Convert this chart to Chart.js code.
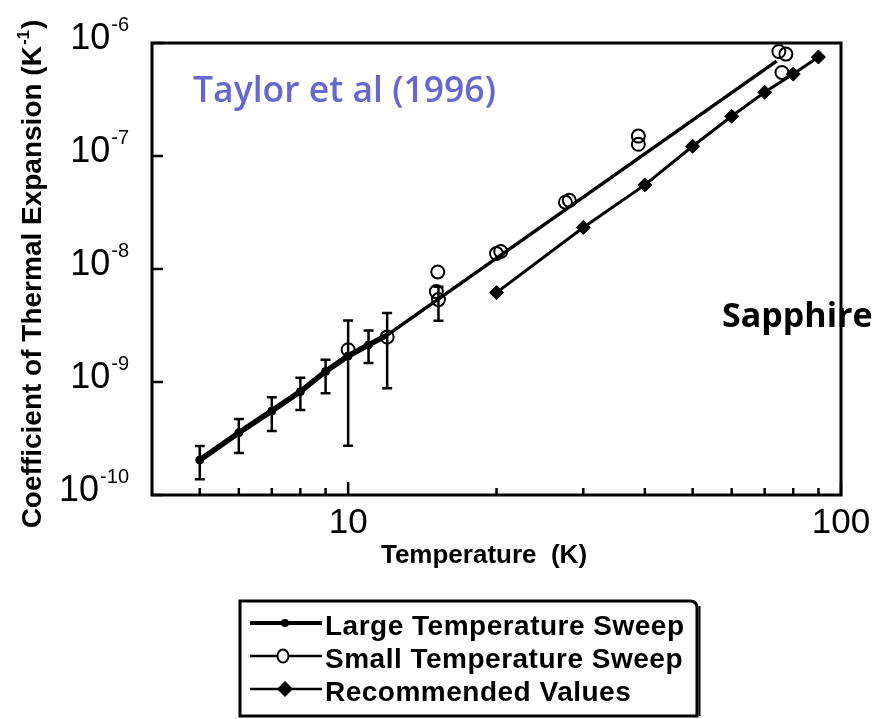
<!DOCTYPE html>
<html><head><meta charset="utf-8">
<script src="https://cdn.jsdelivr.net/npm/chart.js@4/dist/chart.umd.min.js"></script>
<style>html,body{margin:0;padding:0;background:#fff;}#wrap{position:relative;width:881px;height:719px;}</style>
</head><body><div id="wrap"><canvas id="c" width="881" height="719"></canvas></div>
<script>
// ---- data ----
const largeT  = [5, 6, 7, 8, 9, 10, 11, 12];
const largeV  = [2.04e-10, 3.56e-10, 5.55e-10, 8.22e-10, 1.24e-9, 1.70e-9, 2.13e-9, 2.60e-9];
const largeLo = [1.38e-10, 2.35e-10, 3.68e-10, 5.65e-10, 7.96e-10, null, 1.47e-9, null];
const largeHi = [2.71e-10, 4.71e-10, 7.33e-10, 1.09e-9, 1.57e-9, null, 2.86e-9, null];

const fitT = [12, 74];
const fitV = [2.60e-9, 6.92e-7];

const smallT  = [10, 12, 15.2, 15.1, 15.25, 20.0, 20.4, 27.6, 28.1, 38.8, 38.8, 74.8, 77.3, 75.9];
const smallV  = [1.93e-9, 2.50e-9, 9.42e-9, 6.31e-9, 5.36e-9, 1.37e-8, 1.43e-8, 3.90e-8, 4.05e-8, 1.50e-7, 1.27e-7, 8.41e-7, 7.98e-7, 5.49e-7];
const smallLo = [2.73e-10, 8.81e-10, null, null, 3.48e-9, null, null, null, null, null, null, null, null, null];
const smallHi = [3.51e-9, 4.07e-9, null, null, 6.98e-9, null, null, null, null, null, null, null, null, null];

const recT = [20, 30, 40, 50, 60, 70, 80, 90];
const recV = [6.18e-9, 2.33e-8, 5.55e-8, 1.22e-7, 2.25e-7, 3.67e-7, 5.31e-7, 7.51e-7];

const seriesNames = ['Large Temperature Sweep', 'Small Temperature Sweep', 'Recommended Values'];
const xTickValues = [10, 100];
const xTickLabels = ['10', '100'];
const xMinorTicks = [5, 6, 7, 8, 9, 20, 30, 40, 50, 60, 70, 80, 90];
const yTickValues = [1e-10, 1e-9, 1e-8, 1e-7, 1e-6];
const yTickExps   = ['-10', '-9', '-8', '-7', '-6'];
const xTitle = 'Temperature  (K)';
const yTitle = 'Coefficient of Thermal Expansion (K';
const yTitleExp = '-1';
const noteText = 'Taylor et al (1996)';
const materialText = 'Sapphire';

const pts = (xs, ys) => xs.map((x, i) => ({x: x, y: ys[i]}));

const errorBars = {
  id: 'errorBars',
  beforeDatasetsDraw(chart) {
    const ctx = chart.ctx, xs = chart.scales.x, ys = chart.scales.y;
    ctx.save();
    ctx.strokeStyle = '#000'; ctx.lineWidth = 2.5;
    chart.data.datasets.forEach(ds => {
      if (!ds.errLo) return;
      ds.data.forEach((p, i) => {
        if (ds.errLo[i] == null) return;
        const px = xs.getPixelForValue(p.x);
        const y1 = ys.getPixelForValue(ds.errLo[i]);
        const y2 = ys.getPixelForValue(ds.errHi[i]);
        ctx.beginPath();
        ctx.moveTo(px, y1); ctx.lineTo(px, y2);
        ctx.moveTo(px - 5, y1); ctx.lineTo(px + 5, y1);
        ctx.moveTo(px - 5, y2); ctx.lineTo(px + 5, y2);
        ctx.stroke();
      });
    });
    ctx.restore();
  }
};

function supText(ctx, base, exp, x, y, baseFont, expFont, raise, align) {
  ctx.font = baseFont; const wb = ctx.measureText(base).width;
  ctx.font = expFont; const we = ctx.measureText(exp).width;
  let x0 = align === 'right' ? x - wb - we : x;
  ctx.textAlign = 'left'; ctx.textBaseline = 'alphabetic';
  ctx.font = baseFont; ctx.fillText(base, x0, y);
  ctx.font = expFont; ctx.fillText(exp, x0 + wb + 1, y - raise);
}

const decor = {
  id: 'decor',
  afterDraw(chart) {
    const ctx = chart.ctx, a = chart.chartArea, xs = chart.scales.x, ys = chart.scales.y;
    ctx.save();
    ctx.strokeStyle = '#000'; ctx.fillStyle = '#000';
    // frame
    ctx.lineWidth = 3;
    ctx.strokeRect(a.left, a.top, a.right - a.left, a.bottom - a.top);
    // inward ticks
    ctx.lineWidth = 2.5;
    ctx.beginPath();
    xMinorTicks.forEach(v => { const p = xs.getPixelForValue(v); ctx.moveTo(p, a.bottom); ctx.lineTo(p, a.bottom - 7); });
    xTickValues.forEach(v => { const p = xs.getPixelForValue(v); ctx.moveTo(p, a.bottom); ctx.lineTo(p, a.bottom - 13); });
    yTickValues.forEach(v => { const p = ys.getPixelForValue(v); ctx.moveTo(a.left, p); ctx.lineTo(a.left + 11, p); });
    ctx.stroke();
    // x tick labels
    ctx.font = '35px "Liberation Sans", Arial, sans-serif';
    ctx.textAlign = 'center'; ctx.textBaseline = 'alphabetic';
    xTickValues.forEach((v, i) => { ctx.fillText(xTickLabels[i], xs.getPixelForValue(v), 533); });
    // y tick labels
    yTickValues.forEach((v, i) => {
      const p = ys.getPixelForValue(v);
      supText(ctx, '10', yTickExps[i], 128, p + 6, '36px "Liberation Sans", Arial, sans-serif', '20px "Liberation Sans", Arial, sans-serif', 18, 'right');
    });
    // x title
    ctx.font = 'bold 26px "Liberation Sans", Arial, sans-serif';
    ctx.textAlign = 'center';
    ctx.fillText(xTitle, 484, 563);
    // y title (rotated)
    ctx.save();
    ctx.translate(41, 274);
    ctx.rotate(-Math.PI / 2);
    const tf = 'bold 28px "Liberation Sans", Arial, sans-serif', ef = 'bold 17px "Liberation Sans", Arial, sans-serif';
    ctx.font = tf; const w1 = ctx.measureText(yTitle).width, w3 = ctx.measureText(')').width;
    ctx.font = ef; const w2 = ctx.measureText(yTitleExp).width;
    const tot = w1 + w2 + w3 + 2;
    let sx = -tot / 2;
    ctx.textAlign = 'left';
    ctx.font = tf; ctx.fillText(yTitle, sx, 0);
    ctx.font = ef; ctx.fillText(yTitleExp, sx + w1 + 1, -12);
    ctx.font = tf; ctx.fillText(')', sx + w1 + w2 + 2, 0);
    ctx.restore();
    // annotations
    ctx.font = '600 35.5px "Open Sans", sans-serif';
    ctx.fillStyle = '#6767cf'; ctx.textAlign = 'left';
    ctx.fillText(noteText, 193, 102);
    ctx.font = 'bold 34px "Open Sans", sans-serif';
    ctx.fillStyle = '#000';
    ctx.fillText(materialText, 722, 327);
    // legend box
    ctx.lineWidth = 3;
    ctx.beginPath();
    ctx.moveTo(240, 716); ctx.lineTo(240, 601); ctx.lineTo(690, 601);
    ctx.quadraticCurveTo(697, 601, 697, 608); ctx.lineTo(697, 716); ctx.closePath();
    ctx.stroke();
    ctx.lineWidth = 2; ctx.beginPath(); ctx.moveTo(699.5, 606); ctx.lineTo(699.5, 716); ctx.stroke();
    const rows = [635, 668, 701];
    ctx.font = 'bold 28px "Liberation Sans", Arial, sans-serif';
    ctx.letterSpacing = '0.5px';
    ctx.textAlign = 'left'; ctx.fillStyle = '#000';
    seriesNames.forEach((n, i) => {
      const yb = rows[i], yc = yb - 12;
      ctx.beginPath(); ctx.lineWidth = i === 0 ? 4 : 2.5;
      ctx.moveTo(250, yc); ctx.lineTo(322, yc); ctx.stroke();
      if (i === 0) { ctx.beginPath(); ctx.arc(285, yc, 4, 0, Math.PI * 2); ctx.fill(); }
      if (i === 1) { ctx.beginPath(); ctx.fillStyle = '#fff'; ctx.ellipse(283, yc, 5.5, 6.5, 0, 0, Math.PI * 2); ctx.fill(); ctx.lineWidth = 2; ctx.stroke(); ctx.fillStyle = '#000'; }
      if (i === 2) { ctx.beginPath(); ctx.moveTo(285, yc - 8); ctx.lineTo(293, yc); ctx.lineTo(285, yc + 8); ctx.lineTo(277, yc); ctx.closePath(); ctx.fill(); }
      ctx.fillText(n, 325, yb);
    });
    ctx.restore();
  }
};

new Chart(document.getElementById('c'), {
  type: 'scatter',
  data: {
    datasets: [
      { label: seriesNames[2], data: pts(recT, recV), showLine: true, borderColor: '#000', backgroundColor: '#000', borderWidth: 3,
        pointStyle: 'rectRot', pointRadius: 7, pointBorderWidth: 1 },
      { label: 'fit', data: pts(fitT, fitV), showLine: true, borderColor: '#000', borderWidth: 3.5, pointRadius: 0 },
      { label: seriesNames[0], data: pts(largeT, largeV), errLo: largeLo, errHi: largeHi, showLine: true, borderColor: '#000', backgroundColor: '#000', borderWidth: 5.5,
        pointStyle: 'circle', pointRadius: [4, 4, 4, 4, 4, 4, 4, 0], pointBorderWidth: 1 },
      { label: seriesNames[1], data: pts(smallT, smallV), errLo: smallLo, errHi: smallHi, showLine: false, borderColor: '#000', backgroundColor: 'rgba(255,255,255,0)',
        pointStyle: 'circle', pointRadius: 6.5, pointBorderWidth: 2 }
    ]
  },
  options: {
    responsive: false, animation: false, devicePixelRatio: 1,
    layout: { padding: { left: 152, right: 40, top: 43, bottom: 224 } },
    plugins: { legend: { display: false }, tooltip: { enabled: false } },
    scales: {
      x: { type: 'logarithmic', min: 4, max: 100, ticks: { display: false }, grid: { display: false }, border: { display: false },
           afterFit(s) { s.height = 0; } },
      y: { type: 'logarithmic', min: 1e-10, max: 1e-6, ticks: { display: false }, grid: { display: false }, border: { display: false },
           afterFit(s) { s.width = 0; } }
    }
  },
  plugins: [errorBars, decor]
});
</script>
</body></html>
